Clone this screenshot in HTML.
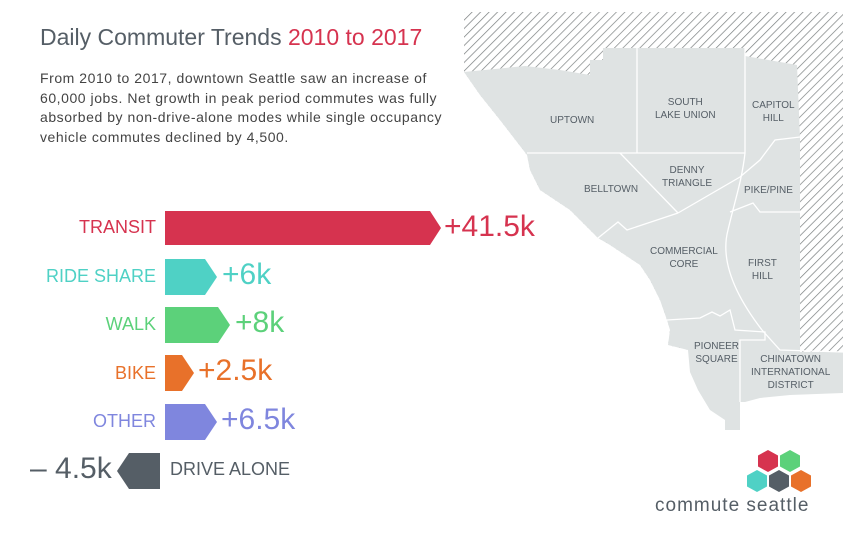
<!DOCTYPE html>
<html><head><meta charset="utf-8"><style>
body{margin:0;width:866px;height:536px;background:#fff;font-family:"Liberation Sans",sans-serif;position:relative;overflow:hidden}
.t{position:absolute;white-space:nowrap}
</style></head><body>
<svg width="866" height="536" style="position:absolute;left:0;top:0">
<defs><pattern id="h" width="6" height="6" patternUnits="userSpaceOnUse" patternTransform="rotate(45)"><rect width="6" height="6" fill="#fff"/><line x1="0" y1="0" x2="0" y2="6" stroke="#7a7f80" stroke-width="1.4"/></pattern></defs>
<rect x="464" y="12" width="379" height="340" fill="url(#h)"/>
<polygon fill="#fff" points="464,72 480,95 500,120 527,155 530,170 540,190 555,200 570,210 585,225 598,238 610,245 625,255 640,265 650,280 660,300 667,320 670,330 668,345 688,350 690,372 698,390 710,410 725,420 725,536 464,536"/>
<polygon fill="#dfe3e3" points="464,72 525,66 560,70 590,75 590,60 603,60 603,48 745,48 745,56 780,62 797,65 800,138 800,352 843,352 843,393 790,395 760,398 745,402 740,402 740,430 725,430 725,420 710,410 698,390 690,372 688,350 668,345 670,330 667,320 660,300 650,280 640,265 625,255 610,245 598,238 585,225 570,210 555,200 540,190 530,170 527,155 500,120 480,95"/>
<g fill="none" stroke="#fff" stroke-width="1.3">
<line x1="637" y1="48" x2="637" y2="153"/>
<line x1="527" y1="153" x2="745" y2="153"/>
<polyline points="620,153 678,213"/>
<polyline points="678,213 740,177 760,160 775,140 800,137"/>
<polyline points="678,213 627,230 618,222 598,238"/>
<polyline points="730,212 753,203 760,212 800,212"/>
<path d="M745,48 L745,153 C742,180 735,200 728,230 C720,260 735,295 762,330 L780,350 L843,352"/>
<polyline points="667,320 700,318 712,312 720,316 730,310 735,330 765,332 765,340 740,340 740,402"/>
</g>
<polygon fill="#d6334f" points="165,211 430,211 441,228 430,245 165,245"/>
<polygon fill="#4fd1c5" points="165,259 205,259 217,277 205,295 165,295"/>
<polygon fill="#5cd17a" points="165,307 218,307 230,325 218,343 165,343"/>
<polygon fill="#e8712a" points="165,355 182,355 194,373 182,391 165,391"/>
<polygon fill="#7f86de" points="165,404 205,404 217,422 205,440 165,440"/>
<polygon fill="#555e66" points="117,471 129,453 160,453 160,489 129,489"/>
<g>
<polygon fill="#d6334f" points="768,450 778,455.5 778,466.5 768,472 758,466.5 758,455.5"/>
<polygon fill="#5cd17a" points="790,450 800,455.5 800,466.5 790,472 780,466.5 780,455.5"/>
<polygon fill="#4fd1c5" points="757,470 767,475.5 767,486.5 757,492 747,486.5 747,475.5"/>
<polygon fill="#555e66" points="779,470 789,475.5 789,486.5 779,492 769,486.5 769,475.5"/>
<polygon fill="#e8712a" points="801,470 811,475.5 811,486.5 801,492 791,486.5 791,475.5"/>
</g>
</svg>
<div class="t" style="left:40px;top:24px;font-size:23px;color:#555e66">Daily Commuter Trends <span style="color:#d6334f">2010 to 2017</span></div>
<div class="t" style="left:40px;top:69px;font-size:14px;line-height:19.5px;letter-spacing:0.55px;color:#444">From 2010 to 2017, downtown Seattle saw an increase of<br>60,000 jobs. Net growth in peak period commutes was fully<br>absorbed by non-drive-alone modes while single occupancy<br>vehicle commutes declined by 4,500.</div>
<div class="t" style="right:710px;top:217px;font-size:18px;color:#d6334f">TRANSIT</div>
<div class="t" style="right:710px;top:266px;font-size:18px;color:#4fd1c5">RIDE SHARE</div>
<div class="t" style="right:710px;top:314px;font-size:18px;color:#5cd17a">WALK</div>
<div class="t" style="right:710px;top:363px;font-size:18px;color:#e8712a">BIKE</div>
<div class="t" style="right:710px;top:411px;font-size:18px;color:#7f86de">OTHER</div>
<div class="t" style="left:170px;top:459px;font-size:18px;color:#555e66">DRIVE ALONE</div>
<div class="t" style="left:444px;top:210px;font-size:30px;color:#d6334f">+41.5k</div>
<div class="t" style="left:222px;top:258px;font-size:30px;color:#4fd1c5">+6k</div>
<div class="t" style="left:235px;top:306px;font-size:30px;color:#5cd17a">+8k</div>
<div class="t" style="left:198px;top:354px;font-size:30px;color:#e8712a">+2.5k</div>
<div class="t" style="left:221px;top:403px;font-size:30px;color:#7f86de">+6.5k</div>
<div class="t" style="left:30px;top:452px;font-size:30px;color:#555e66">– 4.5k</div>
<div class="t" style="left:655px;top:495px;font-size:19px;color:#555e66;letter-spacing:1px">commute seattle</div>
<div style="position:absolute;font-size:10px;color:#555e66;text-align:center;line-height:13px">
<div class="t" style="left:550px;top:114px">UPTOWN</div>
<div class="t" style="left:655px;top:96px;text-align:center">SOUTH<br>LAKE UNION</div>
<div class="t" style="left:752px;top:99px;text-align:center">CAPITOL<br>HILL</div>
<div class="t" style="left:584px;top:183px">BELLTOWN</div>
<div class="t" style="left:662px;top:164px;text-align:center">DENNY<br>TRIANGLE</div>
<div class="t" style="left:744px;top:184px">PIKE/PINE</div>
<div class="t" style="left:650px;top:245px;text-align:center">COMMERCIAL<br>CORE</div>
<div class="t" style="left:748px;top:257px;text-align:center">FIRST<br>HILL</div>
<div class="t" style="left:694px;top:340px;text-align:center">PIONEER<br>SQUARE</div>
<div class="t" style="left:751px;top:353px">CHINATOWN<br>INTERNATIONAL<br>DISTRICT</div>
</div>
</body></html>
